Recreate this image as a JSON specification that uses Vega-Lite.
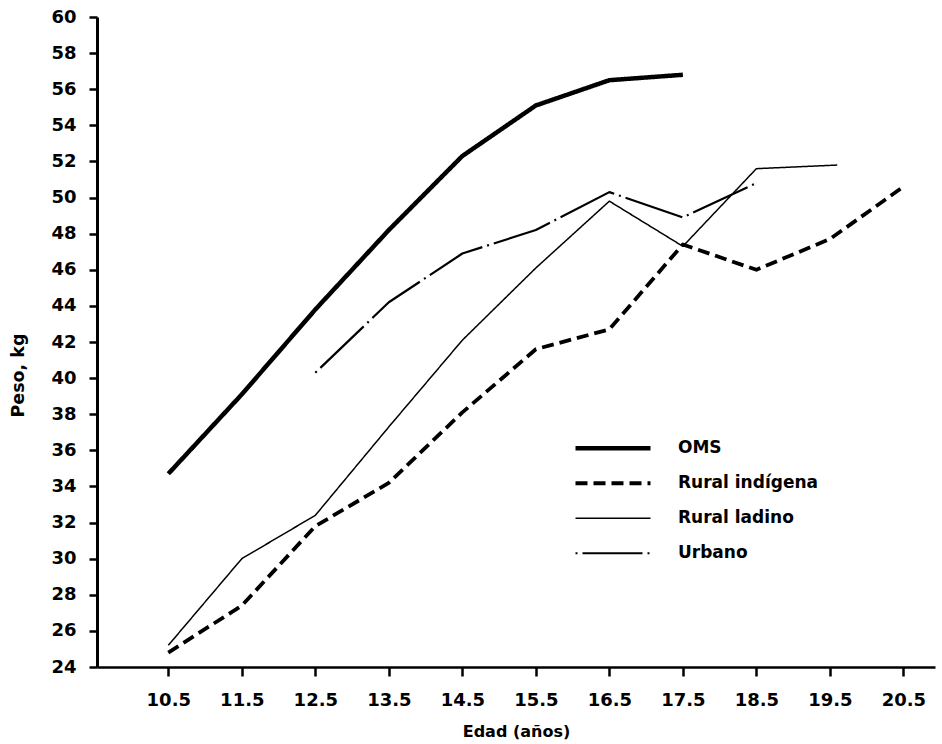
{
  "$schema": "https://vega.github.io/schema/vega-lite/v6.json",
  "width": 838,
  "height": 650,
  "autosize": "none",
  "padding": {"left": 97, "top": 17, "right": 7, "bottom": 77},
  "background": "white",
  "config": {
    "view": {"stroke": null},
    "font": "DejaVu Sans",
    "axis": {
      "grid": false,
      "domainColor": "black",
      "tickColor": "black",
      "labelColor": "black",
      "titleColor": "black",
      "labelFont": "DejaVu Sans",
      "titleFont": "DejaVu Sans",
      "labelFontWeight": "bold",
      "titleFontWeight": "bold",
      "labelFontSize": 18,
      "titleFontSize": 16,
      "tickSize": 9,
      "domainWidth": 2.5,
      "tickWidth": 2.5
    }
  },
  "data": {
    "values": [
      {"grupo": "OMS", "edad": 10.5, "peso": 34.7},
      {"grupo": "OMS", "edad": 11.5, "peso": 39.1},
      {"grupo": "OMS", "edad": 12.5, "peso": 43.8},
      {"grupo": "OMS", "edad": 13.5, "peso": 48.2},
      {"grupo": "OMS", "edad": 14.5, "peso": 52.3},
      {"grupo": "OMS", "edad": 15.5, "peso": 55.1},
      {"grupo": "OMS", "edad": 16.5, "peso": 56.5},
      {"grupo": "OMS", "edad": 17.5, "peso": 56.8},
      {"grupo": "Rural indígena", "edad": 10.5, "peso": 24.8},
      {"grupo": "Rural indígena", "edad": 11.5, "peso": 27.4},
      {"grupo": "Rural indígena", "edad": 12.5, "peso": 31.8},
      {"grupo": "Rural indígena", "edad": 13.5, "peso": 34.2},
      {"grupo": "Rural indígena", "edad": 14.5, "peso": 38.1},
      {"grupo": "Rural indígena", "edad": 15.5, "peso": 41.6},
      {"grupo": "Rural indígena", "edad": 16.5, "peso": 42.7},
      {"grupo": "Rural indígena", "edad": 17.5, "peso": 47.4},
      {"grupo": "Rural indígena", "edad": 18.5, "peso": 46.0},
      {"grupo": "Rural indígena", "edad": 19.5, "peso": 47.7},
      {"grupo": "Rural indígena", "edad": 20.5, "peso": 50.6},
      {"grupo": "Rural ladino", "edad": 10.5, "peso": 25.2},
      {"grupo": "Rural ladino", "edad": 11.5, "peso": 30.0},
      {"grupo": "Rural ladino", "edad": 12.5, "peso": 32.4},
      {"grupo": "Rural ladino", "edad": 13.5, "peso": 37.3},
      {"grupo": "Rural ladino", "edad": 14.5, "peso": 42.1},
      {"grupo": "Rural ladino", "edad": 15.5, "peso": 46.1},
      {"grupo": "Rural ladino", "edad": 16.5, "peso": 49.8},
      {"grupo": "Rural ladino", "edad": 17.5, "peso": 47.3},
      {"grupo": "Rural ladino", "edad": 18.5, "peso": 51.6},
      {"grupo": "Rural ladino", "edad": 19.6, "peso": 51.8},
      {"grupo": "Urbano", "edad": 12.5, "peso": 40.3},
      {"grupo": "Urbano", "edad": 13.5, "peso": 44.2},
      {"grupo": "Urbano", "edad": 14.5, "peso": 46.9},
      {"grupo": "Urbano", "edad": 15.5, "peso": 48.2},
      {"grupo": "Urbano", "edad": 16.5, "peso": 50.3},
      {"grupo": "Urbano", "edad": 17.5, "peso": 48.9},
      {"grupo": "Urbano", "edad": 18.5, "peso": 50.8}
    ]
  },
  "mark": {"type": "line", "color": "black", "strokeCap": "butt", "strokeJoin": "round"},
  "encoding": {
    "x": {
      "field": "edad",
      "type": "quantitative",
      "scale": {"domain": [9.53, 20.93], "nice": false, "zero": false},
      "axis": {
        "values": [10.5, 11.5, 12.5, 13.5, 14.5, 15.5, 16.5, 17.5, 18.5, 19.5, 20.5],
        "format": ".1f",
        "title": "Edad (años)",
        "labelPadding": 15,
        "titlePadding": 14
      }
    },
    "y": {
      "field": "peso",
      "type": "quantitative",
      "scale": {"domain": [24, 60], "nice": false, "zero": false},
      "axis": {
        "values": [24, 26, 28, 30, 32, 34, 36, 38, 40, 42, 44, 46, 48, 50, 52, 54, 56, 58, 60],
        "title": "Peso, kg",
        "titleFontSize": 17.5,
        "titleX": -70,
        "titleY": 358,
        "titleBaseline": "bottom",
        "tickSize": 8,
        "labelPadding": 13,
        "domainWidth": 3
      }
    },
    "strokeDash": {
      "field": "grupo",
      "type": "nominal",
      "scale": {
        "domain": ["OMS", "Rural indígena", "Rural ladino", "Urbano"],
        "range": [[1, 0], [12, 6], [1, 0], [2, 5, 60, 5]]
      },
      "legend": {
        "orient": "none",
        "legendX": 476,
        "legendY": 414,
        "title": null,
        "padding": 0,
        "symbolType": "stroke",
        "symbolSize": 5625,
        "symbolStrokeColor": "black",
        "clipHeight": 34.5,
        "rowPadding": 0,
        "labelOffset": 25,
        "labelFont": "DejaVu Sans",
        "labelFontWeight": "bold",
        "labelFontSize": 17,
        "labelColor": "black"
      }
    },
    "strokeWidth": {
      "field": "grupo",
      "type": "nominal",
      "scale": {
        "type": "ordinal",
        "domain": ["OMS", "Rural indígena", "Rural ladino", "Urbano"],
        "range": [4.5, 3.8, 1.5, 2.2]
      },
      "legend": {
        "orient": "none",
        "legendX": 476,
        "legendY": 414,
        "title": null,
        "padding": 0,
        "symbolType": "stroke",
        "symbolSize": 5625,
        "symbolStrokeColor": "black",
        "clipHeight": 34.5,
        "rowPadding": 0,
        "labelOffset": 25,
        "labelFont": "DejaVu Sans",
        "labelFontWeight": "bold",
        "labelFontSize": 17,
        "labelColor": "black"
      }
    }
  }
}
